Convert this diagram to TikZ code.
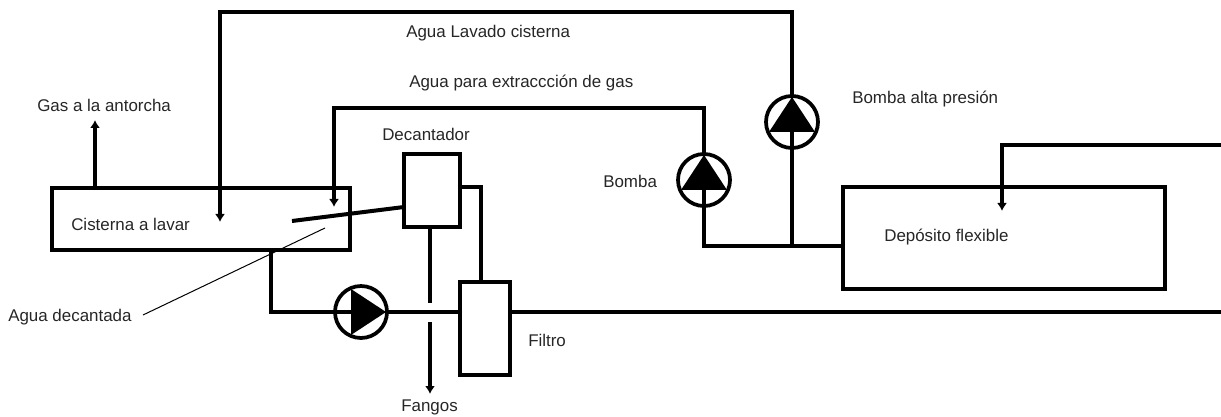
\documentclass[tikz,border=0pt]{standalone}
\usepackage{fontspec}
\setmainfont{Liberation Sans}
\usetikzlibrary{arrows.meta}
\tikzset{
  pipe/.style={line width=2.6pt},
  flow/.style={pipe,-{Latex[length=6pt,width=7.5pt]}},
  equipo/.style={draw,line width=2.8pt,inner sep=0pt,outer sep=0pt},
  bomba/.style={draw,circle,line width=2.8pt,fill=white,inner sep=0pt,outer sep=0pt,minimum size=39pt},
  etiqueta/.style={inner sep=0pt,font=\fontsize{12.7}{14}\selectfont,text=black!85}
}
\begin{document}
\begin{tikzpicture}[x=0.75pt,y=-0.75pt]
  \useasboundingbox (0,0) rectangle (1221,417);
  \node[equipo,minimum width=223.5pt,minimum height=46.5pt] (cisterna) at (201,219) {};
  \node[equipo,minimum width=42pt,minimum height=54.75pt] (decantador) at (432,190.5) {};
  \node[equipo,minimum width=37.5pt,minimum height=69.75pt] (filtro) at (485,328.5) {};
  \node[equipo,minimum width=241.5pt,minimum height=76.5pt] (deposito) at (1004,238) {};
  \coordinate (gas) at (95,120);
  \coordinate (lavadotop) at (220,12);
  \coordinate (lavadoin) at (220,222);
  \coordinate (extraccion) at (334,108);
  \coordinate (extraccionin) at (334,207);
  \coordinate (union) at (792,246);
  \coordinate (vueltain) at (1002,211);
  \coordinate (salida) at (1221,312);
  \coordinate (retorno) at (1221,145);
  \coordinate (fondo) at (271,250);
  \coordinate (rebose) at (292,221);
  \coordinate (rebosein) at (404,207);
  \coordinate (decsalida) at (460,187);
  \coordinate (decfiltro) at (481,282);
  \coordinate (fangosa) at (430,303);
  \coordinate (fangosb) at (430,322);
  \coordinate (fangosc) at (430,394);
  \coordinate (notaa) at (143,315);
  \coordinate (notab) at (325,228);
  \foreach \name/\px/\py in {bombaalta/792/122,bombagas/704/180,bombafiltro/361/312}
    \node[bomba] (\name) at (\px,\py) {};
  \draw[flow] (cisterna.north -| gas) -- (gas);
  \draw[flow] (bombaalta.north) |- (lavadotop) -- (lavadoin);
  \draw[flow] (bombagas.north) |- (extraccion) -- (extraccionin);
  \draw[pipe] (union) -- (bombaalta.center);
  \draw[pipe] (deposito.west |- union) -| (bombagas.center);
  \draw[flow] (retorno) -| (vueltain);
  \draw[pipe] (fondo) |- (bombafiltro.center);
  \draw[pipe] (bombafiltro.east) -- (bombafiltro.east -| filtro.west);
  \draw[pipe] (filtro.east |- salida) -- (salida);
  \draw[line width=3pt] (rebosein) -- (rebose);
  \draw[pipe] (decsalida) -| (decfiltro);
  \draw[pipe] (decantador.south -| fangosa) -- (fangosa);
  \draw[flow] (fangosb) -- (fangosc);
  \draw[line width=0.75pt] (notaa) -- (notab);
  \foreach \name/\rot in {bombaalta/90,bombagas/90,bombafiltro/0}
    \fill[shift={(\name.center)},rotate=\rot] (-10,-23) -- (25,0) -- (-10,23) -- cycle;
  \node[etiqueta,anchor=west] (lgas) at (37,105) {Gas a la antorcha};
  \node[etiqueta,anchor=west] (llavado) at (406,33) {Agua Lavado cisterna};
  \node[etiqueta,anchor=west] (lextra) at (409,83) {Agua para extraccción de gas};
  \node[etiqueta,anchor=west] (ldecan) at (382,134) {Decantador};
  \node[etiqueta,anchor=west] (lalta) at (852,99) {Bomba alta presión};
  \node[etiqueta,anchor=west] (lbomba) at (603,181) {Bomba};
  \node[etiqueta,anchor=west] (lcisterna) at (71,224) {Cisterna a lavar};
  \node[etiqueta,anchor=west] (ldepo) at (884,237) {Depósito flexible};
  \node[etiqueta,anchor=west] (lagua) at (8,317) {Agua decantada};
  \node[etiqueta,anchor=west] (lfiltro) at (528,340) {Filtro};
  \node[etiqueta,anchor=west] (lfangos) at (401,407) {Fangos};
\end{tikzpicture}
\end{document}
